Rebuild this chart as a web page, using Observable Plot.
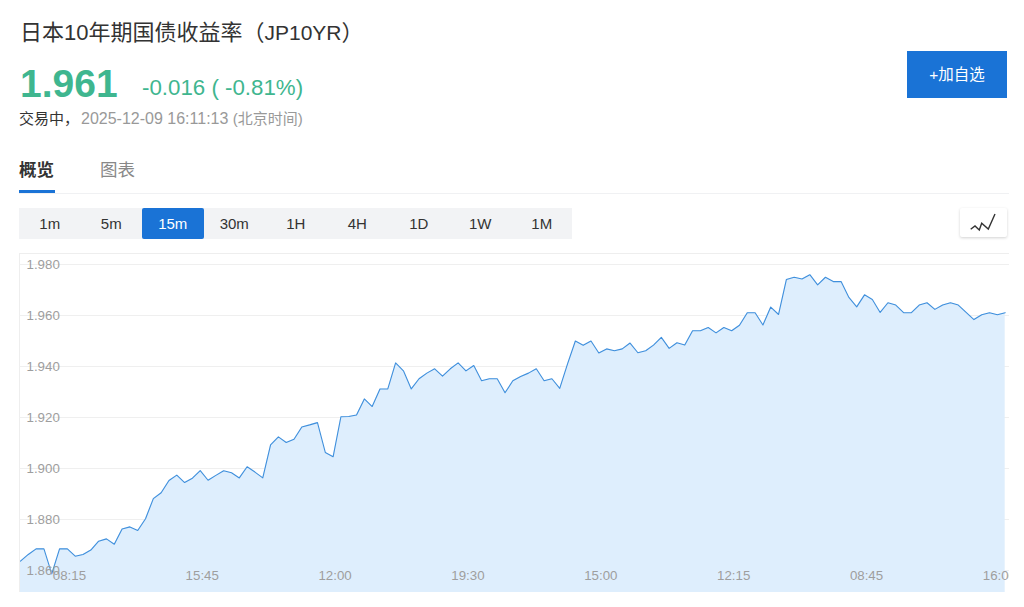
<!DOCTYPE html>
<html lang="zh">
<head>
<meta charset="utf-8">
<script src="https://cdn.jsdelivr.net/npm/d3@7"></script>
<script src="https://cdn.jsdelivr.net/npm/@observablehq/plot@0.6"></script>
<style>
html,body{margin:0;padding:0;background:#fff;width:1024px;height:607px;overflow:hidden}
body{font-family:"Liberation Sans","Noto Sans CJK SC",sans-serif;position:relative}
.a{position:absolute;white-space:nowrap;line-height:1}
#chart{position:absolute;left:19px;top:253px}
#ranges span{position:absolute;top:0;height:31px;line-height:31px;width:61.5px;text-align:center;font-size:15px;color:#333}
#ranges span.on{background:#1a73d6;color:#fff;border-radius:2px}
</style>
</head>
<body>
<div class="a" style="left:20px;top:22px;font-size:22px;color:#333">日本10年期国债收益率（<span style="font-size:21px">JP10YR</span>）</div>
<div class="a" style="left:20px;top:64px;font-size:39px;font-weight:bold;color:#3fb68f">1.961</div>
<div class="a" style="left:142px;top:77px;font-size:22.300px;color:#3fb68f">-0.016 ( -0.81%)</div>
<div class="a" style="left:19px;top:111px;font-size:15px;color:#333">交易中，<span style="color:#999;font-size:16px;margin-left:2px">2025-12-09 16:11:13 </span><span style="color:#999">(北京时间)</span></div>
<div class="a" style="left:19px;top:162px;font-size:17.5px;font-weight:bold;color:#333">概览</div>
<div class="a" style="left:100px;top:162px;font-size:17.5px;color:#888">图表</div>
<div class="a" style="left:19px;top:193px;width:990px;height:1px;background:#f0f1f3"></div>
<div class="a" style="left:19px;top:190px;width:36px;height:3px;background:#1a73d6"></div>
<div class="a" style="left:907px;top:51px;width:100px;height:47px;background:#1a73d6;color:#fff;font-size:15.5px;line-height:47px;text-align:center">+加自选</div>
<div id="ranges" class="a" style="left:19px;top:208px;width:553px;height:31px;background:#f2f3f5"></div>
<div class="a" style="left:960px;top:208px;width:47px;height:29px;background:#fff;box-shadow:0 1px 3px rgba(0,0,0,.18);border-radius:2px">
<svg width="47" height="29"><polyline points="10.700,21.300 15,18 19.300,22 21.700,15.300 28.300,21 35,6" fill="none" stroke="#333" stroke-width="1.400"/></svg>
</div>
<div id="chart"></div>
<script>
const rangeLabels = ["1m","5m","15m","30m","1H","4H","1D","1W","1M"];
const activeRange = "15m";
const yTicks = [1.86,1.88,1.90,1.92,1.94,1.96,1.98];
const xTickIndex = [6,23,40,57,74,91,108,125];
const xTickLabels = ["08:15","15:45","12:00","19:30","15:00","12:15","08:45","16:00"];
const baseline = 1.8514;
const yields = [
1.8637,1.8663,1.8685,1.8685,1.8587,1.8685,1.8685,1.8656,1.8663,1.8680,
1.8715,1.8724,1.8703,1.8763,1.8771,1.8757,1.8803,1.8882,1.8905,1.8953,
1.8974,1.8945,1.8962,1.8992,1.8954,1.8973,1.8991,1.8983,1.8963,1.9007,
1.8986,1.8963,1.9093,1.9124,1.9102,1.9115,1.9163,1.9171,1.9180,1.9063,
1.9046,1.9203,1.9204,1.9210,1.9273,1.9243,1.9312,1.9312,1.9414,1.9383,
1.9312,1.9352,1.9374,1.9391,1.9362,1.9391,1.9414,1.9383,1.9404,1.9344,
1.9352,1.9352,1.9297,1.9344,1.9361,1.9374,1.9391,1.9344,1.9352,1.9314,
1.9410,1.9500,1.9483,1.9500,1.9453,1.9469,1.9462,1.9469,1.9492,1.9454,
1.9462,1.9484,1.9514,1.9471,1.9493,1.9484,1.9540,1.9540,1.9553,1.9532,
1.9553,1.9540,1.9562,1.9611,1.9611,1.9563,1.9633,1.9604,1.9741,1.9750,
1.9743,1.9760,1.9720,1.9750,1.9733,1.9733,1.9671,1.9634,1.9681,1.9663,
1.9612,1.9650,1.9641,1.9611,1.9611,1.9641,1.9650,1.9624,1.9641,1.9650,
1.9641,1.9612,1.9584,1.9603,1.9611,1.9603,1.9611
];

const ranges = document.getElementById("ranges");
rangeLabels.forEach((r,i)=>{
  const s = document.createElement("span");
  s.textContent = r;
  s.style.left = (i*61.5)+"px";
  if (r===activeRange) s.className = "on";
  ranges.appendChild(s);
});

const table = yields.map((v,i)=>({i,v}));
const chart = Plot.plot({
  width: 990, height: 339,
  marginTop: 0, marginBottom: 0, marginLeft: 0, marginRight: 0,
  style: {fontSize: "13.3px", fontFamily: '"Liberation Sans","Noto Sans CJK SC",sans-serif', background: "transparent"},
  x: {domain: [0, yields.length-1], range: [1, 985.7]},
  y: {domain: [1.86, 1.98], range: [317, 11]},
  marks: [
    Plot.frame({stroke: "#eeeeee"}),
    Plot.ruleY(yTicks, {stroke: "#efefef", strokeWidth: 1}),
    Plot.areaY(table, {x: "i", y1: () => baseline, y2: "v", fill: "#deeefd"}),
    Plot.lineY(table, {x: "i", y: "v", stroke: "#3f8fdc", strokeWidth: 1.1}),
    Plot.axisY({anchor: "left", ticks: yTicks, tickSize: 0, tickPadding: 0, textAnchor: "start", dx: 7,
      tickFormat: d3.format(".3f"), color: "#9e9e9e", label: null}),
    Plot.axisX({anchor: "bottom", ticks: xTickIndex, tickSize: 0, tickPadding: 0, dy: -22, dx: 2,
      tickFormat: i => xTickLabels[xTickIndex.indexOf(i)], color: "#9e9e9e", label: null})
  ]
});
document.getElementById("chart").appendChild(chart);
</script>
</body>
</html>
